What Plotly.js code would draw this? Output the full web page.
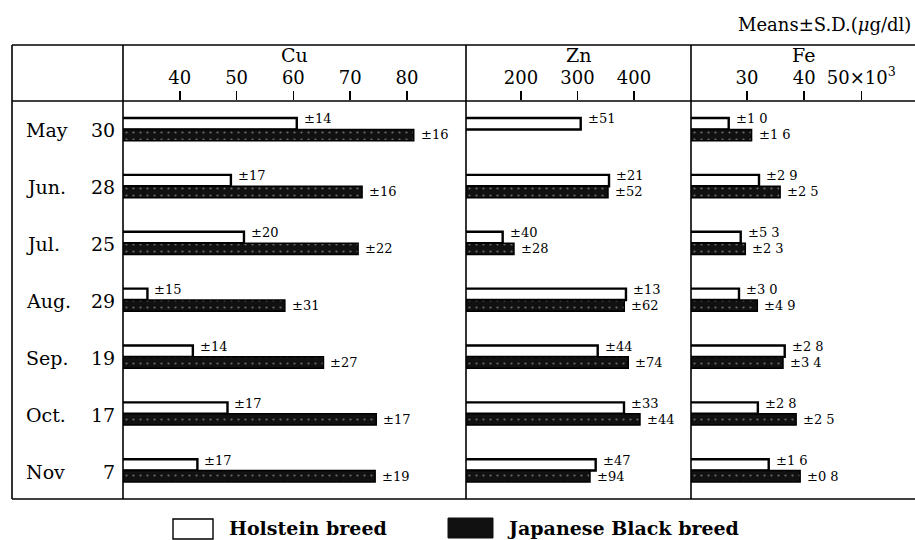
<!DOCTYPE html>
<html>
<head>
<meta charset="utf-8">
<script src="https://cdn.plot.ly/plotly-3.0.1.min.js"></script>
<style>html,body{margin:0;padding:0;background:#fff;}#chart{width:915px;height:540px;}</style>
</head>
<body>
<div id="chart"></div>
<script>
// ---- data ----
const months = ["May", "Jun.", "Jul.", "Aug.", "Sep.", "Oct.", "Nov"];
const days = ["30", "28", "25", "29", "19", "17", "7"];
const categories = months.map((m, i) => m + " " + days[i]);

const cuHolstein = [60.6, 49.0, 51.3, 34.3, 42.3, 48.4, 43.1];
const cuBlack    = [81.2, 72.1, 71.4, 58.5, 65.3, 74.6, 74.4];
const cuSdHolstein = ["±14", "±17", "±20", "±15", "±14", "±17", "±17"];
const cuSdBlack    = ["±16", "±16", "±22", "±31", "±27", "±17", "±19"];

const znHolstein = [305.7, 355.8, 167.6, 385.8, 335.8, 382.3, 332.2];
const znBlack    = [null, 354.0, 187.6, 382.8, 389.9, 410.6, 322.1];
const znSdHolstein = ["±51", "±21", "±40", "±13", "±44", "±33", "±47"];
const znSdBlack    = [null, "±52", "±28", "±62", "±74", "±44", "±94"];

const feHolstein = [26.8, 32.1, 28.9, 28.6, 36.6, 31.9, 33.8];
const feBlack    = [30.8, 35.8, 29.7, 31.8, 36.3, 38.6, 39.3];
const feSdHolstein = ["±1 0", "±2 9", "±5 3", "±3 0", "±2 8", "±2 8", "±1 6"];
const feSdBlack    = ["±1 6", "±2 5", "±2 3", "±4 9", "±3 4", "±2 5", "±0 8"];

const cuTicks = [40, 50, 60, 70, 80];
const znTicks = [200, 300, 400];
const feTicks = [30, 40, 50];
const feTickText = ["30", "40", "50×10<sup>3</sup>"];

const seriesNames = ["Holstein breed", "Japanese Black breed"];
const panelTitles = ["Cu", "Zn", "Fe"];
const unitNote = "Means±S.D.(<i>μ</i>g/dl)";

// ---- style ----
const W = 915, H = 540;
const FONT = "DejaVu Serif";
const px = v => v / W;
const py = v => 1 - v / H;

const holMarker = {color: "#ffffff", line: {color: "#000", width: 2.4}};
const blkMarker = {
  color: "#111111",
  line: {color: "#000", width: 1.5},
  pattern: {shape: ".", bgcolor: "#111111", fgcolor: "#6a6a6a", size: 7, solidity: 0.08}
};

const panels = [
  {ax: "x",  hol: cuHolstein, blk: cuBlack, sdH: cuSdHolstein, sdB: cuSdBlack},
  {ax: "x2", hol: znHolstein, blk: znBlack, sdH: znSdHolstein, sdB: znSdBlack},
  {ax: "x3", hol: feHolstein, blk: feBlack, sdH: feSdHolstein, sdB: feSdBlack}
];

const traces = [];
panels.forEach((p, k) => {
  traces.push({type: "bar", orientation: "h", name: seriesNames[0], x: p.hol, y: categories,
    xaxis: p.ax, yaxis: "y", marker: holMarker, showlegend: false, hoverinfo: "x+y"});
  traces.push({type: "bar", orientation: "h", name: seriesNames[1], x: p.blk, y: categories,
    xaxis: p.ax, yaxis: "y", marker: blkMarker, showlegend: false, hoverinfo: "x+y"});
});

const annotations = [];
panels.forEach(p => {
  categories.forEach((c, i) => {
    if (p.hol[i] != null && p.sdH[i]) {
      annotations.push({xref: p.ax, yref: "y", x: p.hol[i], y: c, text: p.sdH[i],
        showarrow: false, xanchor: "left", yanchor: "middle", xshift: 5, yshift: 10.5,
        font: {family: FONT, size: 13, color: "#000"}});
    }
    if (p.blk[i] != null && p.sdB[i]) {
      annotations.push({xref: p.ax, yref: "y", x: p.blk[i], y: c, text: p.sdB[i],
        showarrow: false, xanchor: "left", yanchor: "middle", xshift: 5, yshift: -5.5,
        font: {family: FONT, size: 13, color: "#000"}});
    }
  });
});
categories.forEach((c, i) => {
  annotations.push({xref: "paper", yref: "y", x: px(24), y: c, text: months[i], showarrow: false,
    xanchor: "left", yanchor: "middle", yshift: -1, font: {family: FONT, size: 19, color: "#000"}});
  annotations.push({xref: "paper", yref: "y", x: px(117), y: c, text: days[i], showarrow: false,
    xanchor: "right", yanchor: "middle", yshift: -1, font: {family: FONT, size: 19, color: "#000"}});
});
// panel titles
["x", "x2", "x3"].forEach((ax, k) => {
  annotations.push({xref: ax + " domain", yref: "paper", x: 0.5, y: py(55), text: panelTitles[k],
    showarrow: false, xanchor: "center", yanchor: "middle", font: {family: FONT, size: 19, color: "#000"}});
});
annotations.push({xref: "paper", yref: "paper", x: px(913), y: py(25), text: unitNote, showarrow: false,
  xanchor: "right", yanchor: "middle", font: {family: FONT, size: 18, color: "#000"}});
// legend texts
annotations.push({xref: "paper", yref: "paper", x: px(227), y: py(528), text: "<b>" + seriesNames[0] + "</b>",
  showarrow: false, xanchor: "left", yanchor: "middle", font: {family: FONT, size: 19, color: "#000"}});
annotations.push({xref: "paper", yref: "paper", x: px(505), y: py(528), text: "<b>" + seriesNames[1] + "</b>",
  showarrow: false, xanchor: "left", yanchor: "middle", font: {family: FONT, size: 19, color: "#000"}});

const lineStyle = {color: "#000", width: 1.6};
const shapes = [
  {type: "line", xref: "paper", yref: "paper", x0: px(12), x1: 1, y0: py(45), y1: py(45), line: lineStyle},
  {type: "line", xref: "paper", yref: "paper", x0: px(12), x1: 1, y0: py(101), y1: py(101), line: lineStyle},
  {type: "line", xref: "paper", yref: "paper", x0: px(12), x1: 1, y0: py(499), y1: py(499), line: lineStyle},
  {type: "line", xref: "paper", yref: "paper", x0: px(12), x1: px(12), y0: py(45), y1: py(499), line: lineStyle},
  {type: "line", xref: "paper", yref: "paper", x0: px(123), x1: px(123), y0: py(45), y1: py(499), line: lineStyle},
  {type: "line", xref: "paper", yref: "paper", x0: px(466), x1: px(466), y0: py(45), y1: py(499), line: lineStyle},
  {type: "line", xref: "paper", yref: "paper", x0: px(691), x1: px(691), y0: py(45), y1: py(499), line: lineStyle},
  // legend boxes
  {type: "rect", xref: "paper", yref: "paper", x0: px(173), x1: px(213), y0: py(539), y1: py(519),
    fillcolor: "#fff", line: {color: "#000", width: 1.4}},
  {type: "rect", xref: "paper", yref: "paper", x0: px(448), x1: px(493), y0: py(538), y1: py(518),
    fillcolor: "#111111", line: {color: "#111111", width: 1}}
];

function xAxis(domain, range, ticks, text) {
  const a = {
    domain: domain, range: range, anchor: "y", side: "top",
    tickmode: "array", tickvals: ticks, ticks: "outside", ticklen: 9, tickwidth: 1.5, tickcolor: "#000",
    tickfont: {family: FONT, size: 18, color: "#000"},
    showgrid: false, zeroline: false, showline: false, fixedrange: true
  };
  if (text) a.ticktext = text;
  return a;
}

const layout = {
  width: W, height: H,
  margin: {l: 0, r: 0, t: 0, b: 0},
  paper_bgcolor: "#fff", plot_bgcolor: "rgba(0,0,0,0)",
  font: {family: FONT, color: "#000"},
  barmode: "group", bargap: 0.6, bargroupgap: 0,
  showlegend: false,
  xaxis:  xAxis([px(123), px(466)], [30, 90.4], cuTicks, null),
  xaxis2: xAxis([px(466), px(691)], [102.7, 500.9], znTicks, null),
  xaxis3: xAxis([px(691), 1], [20.2, 59.4], feTicks, feTickText),
  yaxis: {
    domain: [py(499), py(101)], type: "category", categoryorder: "array", categoryarray: categories,
    range: [6.5, -0.5], showticklabels: false, ticks: "", showgrid: false, zeroline: false, showline: false,
    fixedrange: true
  },
  annotations: annotations,
  shapes: shapes
};

Plotly.newPlot("chart", traces, layout, {displayModeBar: false, staticPlot: true});
</script>
</body>
</html>
